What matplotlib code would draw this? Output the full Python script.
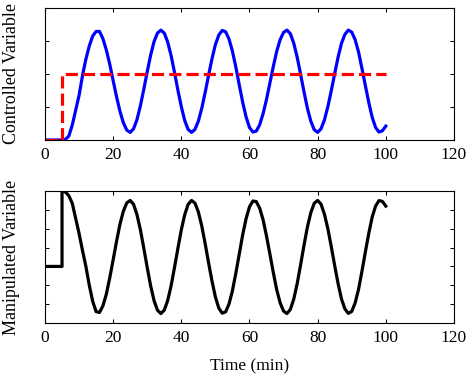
import matplotlib
matplotlib.use("Agg")
import matplotlib.pyplot as plt

# Time grid (min) for the controlled variable
time_cv = list(range(0, 101))

# Controlled variable
cv = [0.0, 0.0, 0.0, 0.0, 0.0, 0.0, 0.02, 0.12, 0.45, 0.9,
      1.35, 1.95, 2.45, 2.85, 3.15, 3.29, 3.29, 3.07, 2.73, 2.30,
      1.80, 1.31, 0.87, 0.52, 0.30, 0.23, 0.34, 0.62, 1.04, 1.54,
      2.07, 2.57, 2.98, 3.24, 3.33, 3.24, 2.97, 2.56, 2.05, 1.51,
      1.01, 0.59, 0.32, 0.23, 0.32, 0.57, 0.96, 1.44, 1.96, 2.46,
      2.89, 3.18, 3.32, 3.28, 3.06, 2.69, 2.21, 1.67, 1.15, 0.70,
      0.38, 0.24, 0.27, 0.46, 0.80, 1.23, 1.73, 2.23, 2.69, 3.04,
      3.26, 3.33, 3.22, 2.93, 2.51, 1.99, 1.46, 0.96, 0.57, 0.31,
      0.23, 0.34, 0.61, 1.01, 1.49, 2.01, 2.51, 2.93, 3.20, 3.33,
      3.27, 3.04, 2.67, 2.17, 1.65, 1.14, 0.69, 0.38, 0.24, 0.28,
      0.42]

# Setpoint step
step_time = 5
t_end = 100
sp_before = 0.0
sp_after = 2.0

# Manipulated variable: steady bias before the step, then the response
mv_bias = 3.0
time_mv = list(range(5, 101))
mv = [7.0, 6.95, 6.75, 6.35, 5.55, 4.75, 3.85, 3.0, 2.0, 1.15,
      0.6, 0.56, 0.91, 1.53, 2.39, 3.35, 4.33, 5.24, 5.93, 6.37,
      6.5, 6.29, 5.74, 4.94, 3.96, 2.94, 1.97, 1.19, 0.68, 0.5,
      0.68, 1.19, 1.97, 2.94, 3.96, 4.94, 5.74, 6.29, 6.50, 6.36,
      5.89, 5.15, 4.21, 3.19, 2.23, 1.38, 0.79, 0.52, 0.59, 1.01,
      1.71, 2.64, 3.65, 4.67, 5.53, 6.16, 6.47, 6.44, 6.09, 5.47,
      4.61, 3.65, 2.67, 1.76, 1.07, 0.63, 0.50, 0.72, 1.27, 2.09,
      3.08, 4.12, 5.09, 5.85, 6.35, 6.50, 6.30, 5.77, 5.0, 4.05,
      3.05, 2.09, 1.27, 0.75, 0.51, 0.61, 1.06, 1.78, 2.74, 3.76,
      4.75, 5.61, 6.20, 6.49, 6.45, 6.2]

xticks = [0, 20, 40, 60, 80, 100, 120]

plt.rcParams['font.family'] = ['Liberation Serif', 'DejaVu Serif']
plt.rcParams['font.size'] = 12.5

fig = plt.figure(figsize=(4.75, 3.76), dpi=100)
ax1 = fig.add_axes([0.0947, 0.6277, 0.861, 0.351])
ax2 = fig.add_axes([0.0947, 0.141, 0.861, 0.351])

ax1.plot(time_cv, cv, color='#0000ff', linewidth=2.3, solid_joinstyle='round')
ax1.plot([0, step_time, step_time, t_end],
         [sp_before, sp_before, sp_after, sp_after],
         color='#ff0000', linewidth=2.3, dashes=(3.8, 1.6))
ax1.set_ylim(0, 4)
ax1.set_yticks([0, 1, 2, 3, 4])
ax1.set_ylabel("Controlled Variable", fontsize=13, labelpad=13)

ax2.plot([0, step_time] + time_mv, [mv_bias, mv_bias] + mv,
         color='black', linewidth=2.3, solid_joinstyle='round')
ax2.set_ylim(0, 7)
ax2.set_yticks(range(0, 8))
ax2.set_ylabel("Manipulated Variable", fontsize=13, labelpad=13)
ax2.set_xlabel("Time (min)", fontsize=12.5, labelpad=9)

for ax in (ax1, ax2):
    ax.set_xlim(0, 120)
    ax.set_xticks(xticks)
    ax.set_yticklabels([])
    ax.tick_params(direction='in', top=True, right=True, length=3, width=0.75, pad=5)
    for s in ax.spines.values():
        s.set_linewidth(0.8)

fig.savefig("out.png", dpi=100)
